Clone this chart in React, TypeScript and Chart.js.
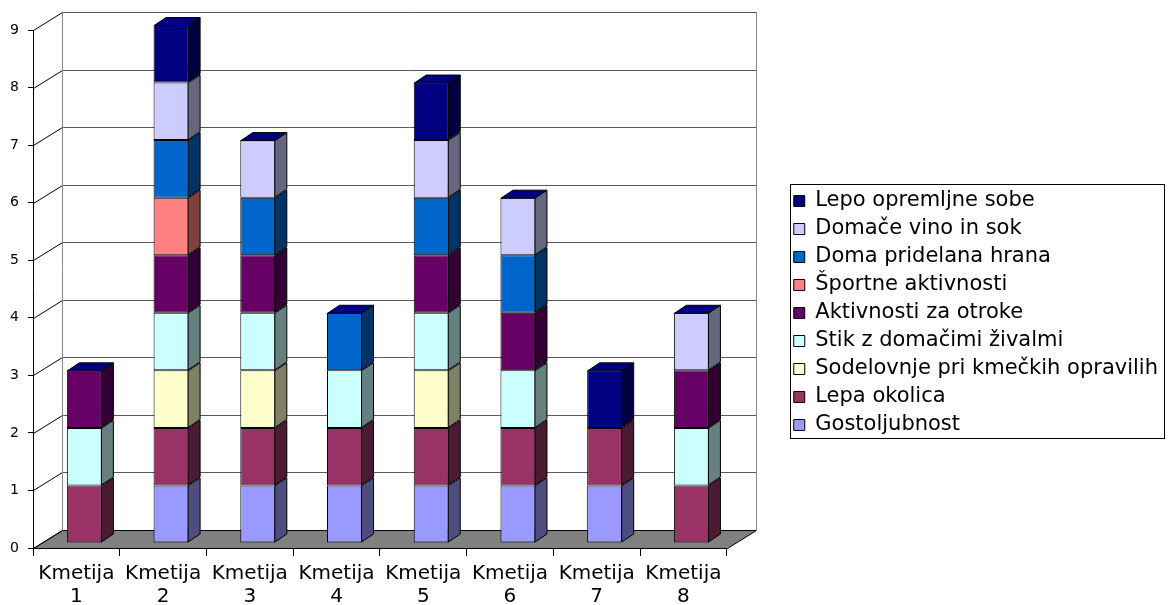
import { useEffect, useRef } from "react";
import { Chart, registerables } from "chart.js";

Chart.register(...registerables);

// ---- data ----
const categories = [
  ["Kmetija", "1"],
  ["Kmetija", "2"],
  ["Kmetija", "3"],
  ["Kmetija", "4"],
  ["Kmetija", "5"],
  ["Kmetija", "6"],
  ["Kmetija", "7"],
  ["Kmetija", "8"],
];

const yTicks = [0, 1, 2, 3, 4, 5, 6, 7, 8, 9];

const gostoljubnost = [0, 1, 1, 1, 1, 1, 1, 0];
const lepaOkolica = [1, 1, 1, 1, 1, 1, 1, 1];
const sodelovanje = [0, 1, 1, 0, 1, 0, 0, 0];
const stikZivali = [1, 1, 1, 1, 1, 1, 0, 1];
const aktivnostiOtroke = [1, 1, 1, 0, 1, 1, 0, 1];
const sportneAktivnosti = [0, 1, 0, 0, 0, 0, 0, 0];
const domaHrana = [0, 1, 1, 1, 1, 1, 0, 0];
const domaceVino = [0, 1, 1, 0, 1, 1, 0, 1];
const lepoSobe = [0, 1, 0, 0, 1, 0, 1, 0];

const seriesNames = [
  "Gostoljubnost",
  "Lepa okolica",
  "Sodelovnje pri kmečkih opravilih",
  "Stik z domačimi živalmi",
  "Aktivnosti za otroke",
  "Športne aktivnosti",
  "Doma pridelana hrana",
  "Domače vino in sok",
  "Lepo opremljne sobe",
];
const seriesValues = [
  gostoljubnost,
  lepaOkolica,
  sodelovanje,
  stikZivali,
  aktivnostiOtroke,
  sportneAktivnosti,
  domaHrana,
  domaceVino,
  lepoSobe,
];
const seriesColors = [
  "#9999FF",
  "#993366",
  "#FFFFCC",
  "#CCFFFF",
  "#660066",
  "#FF8080",
  "#0066CC",
  "#CCCCFF",
  "#000080",
];

// ---- 3D styling ----
const WALL_DX = 29;
const WALL_DY = -18;
const BAR_FRONT = 0.29;
const BAR_DEPTH = 0.42;
const TOP_COLOR = "#000080";
const GRID_COLOR = "#5a5a5a";
const WALL_EDGE = "#8a8a8a";
const FLOOR_COLOR = "#808080";
const FONT = "'DejaVu Sans', sans-serif";

function darken(hex: string, f: number) {
  const n = parseInt(hex.slice(1), 16);
  const r = Math.round(((n >> 16) & 255) * f);
  const g = Math.round(((n >> 8) & 255) * f);
  const b = Math.round((n & 255) * f);
  return `rgb(${r},${g},${b})`;
}

const fx = Math.round(WALL_DX * BAR_FRONT);
const fy = Math.round(WALL_DY * BAR_FRONT);
const sx = Math.round(WALL_DX * BAR_DEPTH);
const sy = Math.round(WALL_DY * BAR_DEPTH);

const threeDPlugin = {
  id: "threeD",
  beforeDraw(chart: any) {
    const { ctx } = chart;
    const xs = chart.scales.x;
    const ys = chart.scales.y;
    const l = Math.round(xs.left) + 0.5;
    const r = Math.round(xs.right) + 0.5;
    const b = Math.round(ys.getPixelForValue(yTicks[0])) + 0.5;
    const t = Math.round(ys.getPixelForValue(yTicks[yTicks.length - 1])) + 0.5;
    ctx.save();
    ctx.lineWidth = 1;
    // floor
    ctx.beginPath();
    ctx.moveTo(l, b);
    ctx.lineTo(l + WALL_DX, b + WALL_DY);
    ctx.lineTo(r + WALL_DX, b + WALL_DY);
    ctx.lineTo(r, b);
    ctx.closePath();
    ctx.fillStyle = FLOOR_COLOR;
    ctx.fill();
    ctx.strokeStyle = "#000";
    ctx.stroke();
    // back wall gridlines and side wall diagonals
    yTicks.forEach((v) => {
      const py = Math.round(ys.getPixelForValue(v)) + 0.5;
      if (v > yTicks[0]) {
        ctx.strokeStyle = GRID_COLOR;
        ctx.beginPath();
        ctx.moveTo(l + WALL_DX, py + WALL_DY);
        ctx.lineTo(r + WALL_DX, py + WALL_DY);
        ctx.stroke();
      }
      ctx.strokeStyle = "#000";
      ctx.beginPath();
      ctx.moveTo(l, py);
      ctx.lineTo(l + WALL_DX, py + WALL_DY);
      ctx.stroke();
    });
    ctx.strokeStyle = WALL_EDGE;
    ctx.beginPath();
    ctx.moveTo(l + WALL_DX, t + WALL_DY);
    ctx.lineTo(l + WALL_DX, b + WALL_DY);
    ctx.moveTo(r + WALL_DX, t + WALL_DY);
    ctx.lineTo(r + WALL_DX, b + WALL_DY);
    ctx.stroke();
    ctx.restore();
  },
  beforeDatasetsDraw(chart: any) {
    chart.ctx.save();
    chart.ctx.translate(fx, fy);
  },
  afterDatasetsDraw(chart: any) {
    const { ctx } = chart;
    ctx.restore();
    const topIdx = categories.map((_, i) => {
      let top = -1;
      seriesValues.forEach((vals, d) => {
        if (vals[i]) top = d;
      });
      return top;
    });
    ctx.save();
    ctx.lineWidth = 1;
    ctx.strokeStyle = "#000";
    ctx.lineJoin = "miter";
    seriesValues.forEach((vals, d) => {
      const meta = chart.getDatasetMeta(d);
      meta.data.forEach((el: any, i: number) => {
        if (!vals[i]) return;
        const p = el.getProps(["x", "y", "base", "width"], true);
        const left = p.x - p.width / 2 + fx;
        const right = p.x + p.width / 2 + fx;
        const top = p.y + fy;
        const bottom = p.base + fy;
        // side
        ctx.beginPath();
        ctx.moveTo(right - 0.5, top + 0.5);
        ctx.lineTo(right - 0.5 + sx, top + 0.5 + sy);
        ctx.lineTo(right - 0.5 + sx, bottom - 0.5 + sy);
        ctx.lineTo(right - 0.5, bottom - 0.5);
        ctx.closePath();
        ctx.fillStyle = darken(seriesColors[d], 0.5);
        ctx.fill();
        ctx.stroke();
        if (topIdx[i] === d) {
          ctx.beginPath();
          ctx.moveTo(left + 0.5, top + 0.5);
          ctx.lineTo(left + 0.5 + sx, top + 0.5 + sy);
          ctx.lineTo(right - 0.5 + sx, top + 0.5 + sy);
          ctx.lineTo(right - 0.5, top + 0.5);
          ctx.closePath();
          ctx.fillStyle = TOP_COLOR;
          ctx.fill();
          ctx.stroke();
        }
      });
    });
    ctx.restore();
  },
  afterDraw(chart: any) {
    const lg = chart.legend;
    if (!lg || !lg.legendHitBoxes || !lg.legendHitBoxes.length) return;
    const hb = lg.legendHitBoxes;
    const l = Math.min(...hb.map((h: any) => h.left)) - 4;
    const r = Math.min(chart.width - 3, Math.max(...hb.map((h: any) => h.left + h.width)) + 6);
    const t = Math.min(...hb.map((h: any) => h.top)) - 7;
    const b = Math.max(...hb.map((h: any) => h.top + h.height)) + 2;
    const { ctx } = chart;
    ctx.save();
    ctx.strokeStyle = "#000";
    ctx.lineWidth = 1;
    ctx.strokeRect(Math.round(l) + 0.5, Math.round(t) + 0.5, Math.round(r - l), Math.round(b - t));
    ctx.restore();
  },
};

export default function App() {
  const ref = useRef<HTMLCanvasElement | null>(null);

  useEffect(() => {
    if (!ref.current) return;
    Chart.defaults.font.family = FONT;
    Chart.defaults.color = "#000";
    const chart = new Chart(ref.current, {
      type: "bar",
      data: {
        labels: categories,
        datasets: seriesNames.map((name, d) => ({
          label: name,
          data: seriesValues[d].map((v) => (v ? v : null)),
          backgroundColor: seriesColors[d],
          borderColor: "#000",
          borderWidth: 1,
          borderSkipped: false,
          barPercentage: 0.404,
          categoryPercentage: 1,
          clip: false,
        })),
      },
      options: {
        animation: false,
        responsive: true,
        maintainAspectRatio: false,
        devicePixelRatio: 1,
        layout: { padding: { top: 21, right: 0, bottom: 0, left: 0 } },
        plugins: {
          tooltip: { enabled: false },
          legend: {
            position: "right",
            reverse: true,
            maxWidth: 420,
            labels: {
              boxWidth: 11,
              boxHeight: 11,
              padding: 7,
              color: "#000",
              font: { family: FONT, size: 21 },
            },
          },
        },
        scales: {
          x: {
            stacked: true,
            grid: {
              drawOnChartArea: false,
              drawTicks: true,
              tickLength: 8,
              color: "#000",
              offset: true,
            },
            border: { display: true, color: "#000" },
            ticks: {
              padding: 6,
              color: "#000",
              maxRotation: 0,
              autoSkip: false,
              font: { family: FONT, size: 20, lineHeight: 1.15 },
            },
            afterFit: (s: any) => {
              s.height = 57;
              s.paddingLeft = 0;
              s.paddingRight = 0;
            },
          },
          y: {
            stacked: true,
            min: yTicks[0],
            max: yTicks[yTicks.length - 1],
            grid: {
              drawOnChartArea: false,
              drawTicks: true,
              tickLength: 5,
              color: "#000",
            },
            border: { display: true, color: "#000" },
            ticks: {
              stepSize: 1,
              padding: 9,
              color: "#000",
              font: { family: FONT, size: 14 },
            },
            afterFit: (s: any) => {
              s.width = 33;
              s.paddingTop = 30;
            },
          },
          gap: {
            type: "linear",
            position: "right",
            display: true,
            grid: { display: false },
            border: { display: false },
            ticks: { display: false },
            afterFit: (s: any) => {
              s.width = 60;
            },
          },
        },
      } as any,
      plugins: [threeDPlugin],
    });
    return () => chart.destroy();
  }, []);

  return (
    <div style={{ position: "fixed", left: 0, top: 0, width: 1168, height: 605 }}>
      <canvas ref={ref} />
    </div>
  );
}
